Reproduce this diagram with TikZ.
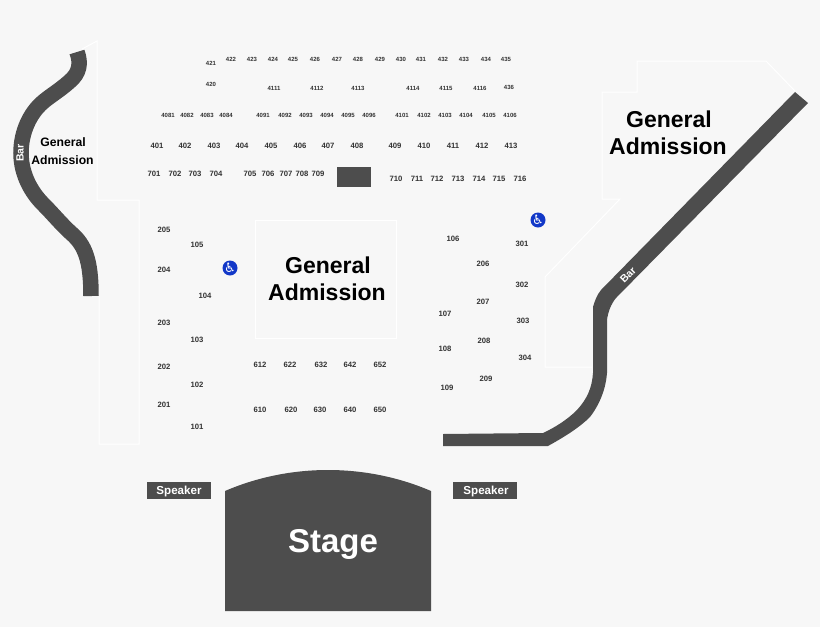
\documentclass[tikz,border=0pt]{standalone}
\usepackage{fontspec}
\setmainfont{Liberation Sans}
\newfontfamily\symfont{DejaVu Sans}
\definecolor{bgc}{HTML}{F7F7F7}
\definecolor{dark}{HTML}{4D4D4D}
\definecolor{txtc}{HTML}{333333}
\definecolor{wheel}{HTML}{1238C8}
\tikzset{
  x=1pt,y=-1pt,
  seatbig/.style={font=\fontsize{7.7}{9}\selectfont\bfseries,text=txtc,inner sep=0pt},
  seatsmall/.style={font=\fontsize{6}{7}\selectfont\bfseries,text=txtc,inner sep=0pt},
  ga/.style={font=\fontsize{#1}{#1}\selectfont\bfseries,text=black,align=center,inner sep=0pt},
  fence/.style={draw=white,line width=1pt,line join=miter},
  barshape/.style={fill=dark,draw=none},
  speakerbox/.style={fill=dark,minimum width=64pt,minimum height=17pt,inner sep=0pt},
  speakertext/.style={text=white,font=\fontsize{11.6}{13}\selectfont\bfseries,inner sep=0pt},
  barlabel/.style={text=white,font=\fontsize{10.5}{12}\selectfont\bfseries,inner sep=0pt},
  access/.style={circle,fill=wheel,minimum size=15pt,inner sep=0pt,text=white,font=\symfont\fontsize{13}{13}\selectfont},
}
\begin{document}
\begin{tikzpicture}
\useasboundingbox (0,0) rectangle (820,627);
\fill[bgc] (0,0) rectangle (820,627);
% white section outlines
\draw[fence] (82,49) -- (97,41) -- (97,200) -- (139,200) -- (139,444) -- (99,444) -- (99,296);
\draw[fence] (255,220) rectangle (396,338);
\draw[fence] (592,367) -- (545,367) -- (545,277) -- (620,199) -- (602,199) -- (602,92) -- (637,92) -- (637,61) -- (766,61) -- (795,91);
% left bar
\draw[dark,line width=15.5pt,line cap=butt] (77,52) .. controls (81,63) and (80,73) .. (69,82) .. controls (60,90) and (50,96) .. (43,102) .. controls (30,113) and (21,132) .. (21,153) .. controls (21,175) and (32,193) .. (43,204) .. controls (53,214) and (62,225) .. (71,233) .. controls (85,245) and (91,260) .. (91,296);
% right bar
\path[barshape] (795,92) -- (808,103) -- (616,298) .. controls (611,304) and (608,312) .. (607,320) -- (607,373)
  .. controls (606,388) and (600,404) .. (590,417) .. controls (580,427) and (566,436) .. (548,446) -- (443,446) -- (443,434) -- (543,433)
  .. controls (556,427) and (568,419) .. (577,410) .. controls (587,399) and (592,388) .. (593,373) -- (593,307) .. controls (595,300) and (597,295) .. (601,290) -- cycle;
% stage and box
\path[barshape] (225,491) .. controls (290,463) and (366,463) .. (431,491) -- (431,611) -- (225,611) -- cycle;
\node[inner sep=0pt,text=white,font=\fontsize{33}{33}\selectfont\bfseries] (stage) at (333,544) {Stage};
\fill[dark] (337,167) rectangle (371,187);
\node[speakerbox] (spkL) at (179,490.5) {};
\node[speakerbox] (spkR) at (485,490.5) {};
\node[speakertext] (spkLt) at (179,491.5) {Speaker};
\node[speakertext] (spkRt) at (486,491.5) {Speaker};
\node[barlabel,rotate=90] (barL) at (20,153) {Bar};
\node[barlabel,rotate=45] (barR) at (628,275) {Bar};
% general admission
\node[ga=12.2] (gaL1) at (63,142.5) {General};
\node[ga=12.2] (gaL2) at (62.5,160) {Admission};
\node[ga=23] (gaC1) at (328,265) {General};
\node[ga=23] (gaC2) at (327,292) {Admission};
\node[ga=23] (gaR1) at (669,119) {General};
\node[ga=23] (gaR2) at (668,146) {Admission};
% access icons
\node[access] (wa) at (230,268) {\symbol{"267F}};
\node[access] (wb) at (538,220) {\symbol{"267F}};
% small seats
\foreach \px/\py/\t in {211/63/421,211/84/420,231/59/422,252/59/423,273/59/424,293/59/425,315/59/426,337/59/427,358/59/428,380/59/429,401/59/430,421/59/431,443/59/432,464/59/433,486/59/434,506/59/435,509/87/436,
274/88/4111,317/88/4112,358/88/4113,413/88/4114,446/88/4115,480/88/4116,
168/115/4081,187/115/4082,207/115/4083,226/115/4084,263/115/4091,285/115/4092,306/115/4093,327/115/4094,348/115/4095,369/115/4096,402/115/4101,424/115/4102,445/115/4103,466/115/4104,489/115/4105,510/115/4106}
  \node[seatsmall] (s\t) at (\px,\py) {\t};
% large seats
\foreach \px/\py/\t in {157/146/401,185/146/402,214/146/403,242/146/404,271/146/405,300/146/406,328/146/407,357/146/408,395/146/409,424/146/410,453/146/411,482/146/412,511/146/413,
154/174/701,175/174/702,195/174/703,216/174/704,250/174/705,268/174/706,286/174/707,302/174/708,318/174/709,
396/179/710,417/179/711,437/179/712,458/179/713,479/179/714,499/179/715,520/179/716,
164/230/205,197/245/105,164/270/204,205/296/104,164/323/203,197/340/103,164/367/202,197/385/102,164/405/201,197/427/101,
260/365/612,290/365/622,321/365/632,350/365/642,380/365/652,260/410/610,291/410/620,320/410/630,350/410/640,380/410/650,
453/239/106,483/264/206,522/244/301,522/285/302,483/302/207,523/321/303,445/314/107,484/341/208,445/349/108,525/358/304,486/379/209,447/388/109}
  \node[seatbig] (s\t) at (\px,\py) {\t};
\end{tikzpicture}
\end{document}
